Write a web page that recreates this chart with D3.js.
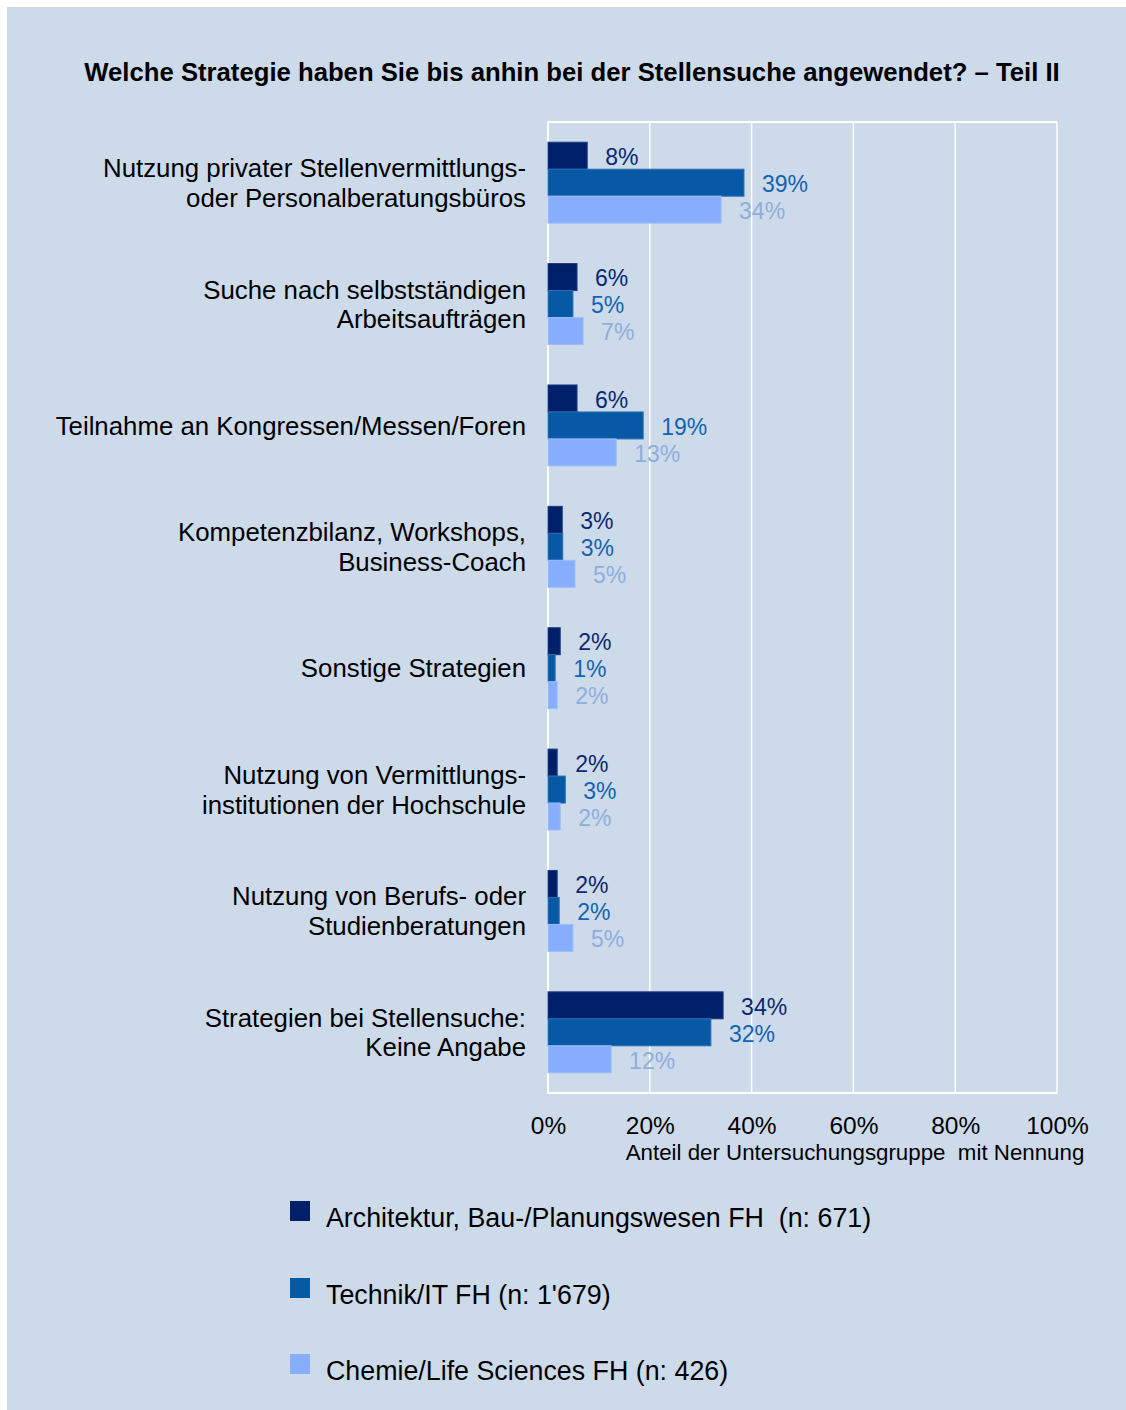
<!DOCTYPE html>
<html lang="de">
<head>
  <meta charset="UTF-8">
  <title>Strategien bei der Stellensuche – Teil II</title>
  <script src="https://d3js.org/d3.v7.min.js"></script>
  <style>
    body {
      margin: 0;
      background: #fff;
      font-family: "Liberation Sans", Arial, sans-serif;
    }
    svg {
      display: block;
    }
  </style>
</head>
<body>
  <svg></svg>
  <script>
    // categories (top to bottom), lines split with "\n"
    const categories = [
      "Nutzung privater Stellenvermittlungs-\noder Personalberatungsbüros",
      "Suche nach selbstständigen\nArbeitsaufträgen",
      "Teilnahme an Kongressen/Messen/Foren",
      "Kompetenzbilanz, Workshops,\nBusiness-Coach",
      "Sonstige Strategien",
      "Nutzung von Vermittlungs-\ninstitutionen der Hochschule",
      "Nutzung von Berufs- oder\nStudienberatungen",
      "Strategien bei Stellensuche:\nKeine Angabe"
    ];

    const seriesNames = [
      "Architektur, Bau-/Planungswesen FH  (n: 671)",
      "Technik/IT FH (n: 1'679)",
      "Chemie/Life Sciences FH (n: 426)"
    ];

    // values in percent
    const architektur = [7.7, 5.7, 5.7, 2.8, 2.4, 1.8, 1.8, 34.4];
    const technik     = [38.5, 4.9, 18.7, 2.9, 1.4, 3.4, 2.2, 32.0];
    const chemie      = [34.0, 6.9, 13.4, 5.3, 1.8, 2.4, 4.9, 12.4];

    const xTicks = [0, 20, 40, 60, 80, 100];

    const barColors    = ["#002169", "#0759a5", "#86aefc"];
    const strokeColors = ["#1a3a80", "#2a70b5", "#9dbef5"];
    const labelColors  = ["#0b2870", "#1463b0", "#8eaedb"];

    const W = 1126, H = 1410;
    const svg = d3.select("svg").attr("width", W).attr("height", H);

    svg.append("rect")
      .attr("x", 7).attr("y", 7)
      .attr("width", W - 7).attr("height", H - 7)
      .attr("fill", "#cddaea");

    svg.append("text")
      .attr("x", 572).attr("y", 81)
      .attr("text-anchor", "middle")
      .attr("font-size", 25.7)
      .attr("font-weight", "bold")
      .attr("fill", "#000")
      .text("Welche Strategie haben Sie bis anhin bei der Stellensuche angewendet? – Teil II");

    const plot = { left: 548, right: 1057, top: 122, bottom: 1093 };

    const x = d3.scaleLinear().domain([0, 100]).range([plot.left, plot.right]);
    const y = d3.scaleBand()
      .domain(d3.range(categories.length))
      .range([plot.top, plot.bottom])
      .paddingInner(1 / 3)
      .paddingOuter(1 / 6);
    const ySub = d3.scaleBand().domain([0, 1, 2]).range([0, y.bandwidth()]);

    // grid
    const grid = svg.append("g");
    grid.selectAll("line")
      .data(xTicks.slice(1))
      .join("line")
      .attr("x1", d => x(d)).attr("x2", d => x(d))
      .attr("y1", plot.top).attr("y2", plot.bottom)
      .attr("stroke", "#fff").attr("stroke-width", 1.5);
    grid.append("path")
      .attr("d", `M${plot.right},${plot.top}H${plot.left}V${plot.bottom}H${plot.right}`)
      .attr("fill", "none")
      .attr("stroke", "#fff").attr("stroke-width", 2);

    const series = [architektur, technik, chemie];

    series.forEach((vals, s) => {
      const g = svg.append("g");
      g.selectAll("rect")
        .data(vals)
        .join("rect")
        .attr("x", x(0))
        .attr("y", (d, i) => y(i) + ySub(s))
        .attr("width", d => x(d) - x(0))
        .attr("height", ySub.bandwidth())
        .attr("fill", barColors[s])
        .attr("stroke", strokeColors[s])
        .attr("stroke-width", 1);
      g.selectAll("text")
        .data(vals)
        .join("text")
        .attr("x", d => x(d) + 18)
        .attr("y", (d, i) => y(i) + ySub(s) + ySub.bandwidth() / 2 + 1)
        .attr("dy", "0.36em")
        .attr("font-size", 23)
        .attr("fill", labelColors[s])
        .text(d => d3.format(".0f")(d) + "%");
    });

    // category labels
    const cat = svg.append("g")
      .attr("text-anchor", "end")
      .attr("font-size", 25.8)
      .attr("fill", "#000");
    cat.selectAll("text")
      .data(categories)
      .join("text")
      .attr("transform", (d, i) => `translate(526,${y(i) + y.bandwidth() / 2})`)
      .each(function (d) {
        const lines = d.split("\n");
        const lh = 29.5;
        d3.select(this).selectAll("tspan")
          .data(lines)
          .join("tspan")
          .attr("x", 0)
          .attr("y", (l, j) => (j - (lines.length - 1) / 2) * lh)
          .attr("dy", "0.36em")
          .text(l => l);
      });

    // x axis
    const axis = svg.append("g")
      .attr("transform", `translate(0,${plot.bottom})`)
      .call(d3.axisBottom(x).tickValues(xTicks).tickSize(0).tickPadding(24).tickFormat(d => d + "%"));
    axis.select(".domain").remove();
    axis.selectAll("text")
      .attr("font-family", "Liberation Sans, Arial, sans-serif")
      .attr("font-size", 24.5)
      .attr("fill", "#000");

    svg.append("text")
      .attr("x", 855).attr("y", 1160)
      .attr("text-anchor", "middle")
      .attr("font-size", 22.3)
      .attr("fill", "#000")
      .style("white-space", "pre")
      .text("Anteil der Untersuchungsgruppe  mit Nennung");

    // legend
    const legendY = [1211, 1288, 1364];
    const legend = svg.append("g");
    const items = legend.selectAll("g")
      .data(seriesNames)
      .join("g")
      .attr("transform", (d, i) => `translate(290,${legendY[i]})`);
    items.append("rect")
      .attr("x", 0).attr("y", -10)
      .attr("width", 20).attr("height", 20)
      .attr("fill", (d, i) => barColors[i]);
    items.append("text")
      .attr("x", 36).attr("y", 6)
      .attr("dy", "0.36em")
      .attr("font-size", 26.8)
      .attr("fill", "#000")
      .style("white-space", "pre")
      .text(d => d);
  </script>
</body>
</html>
